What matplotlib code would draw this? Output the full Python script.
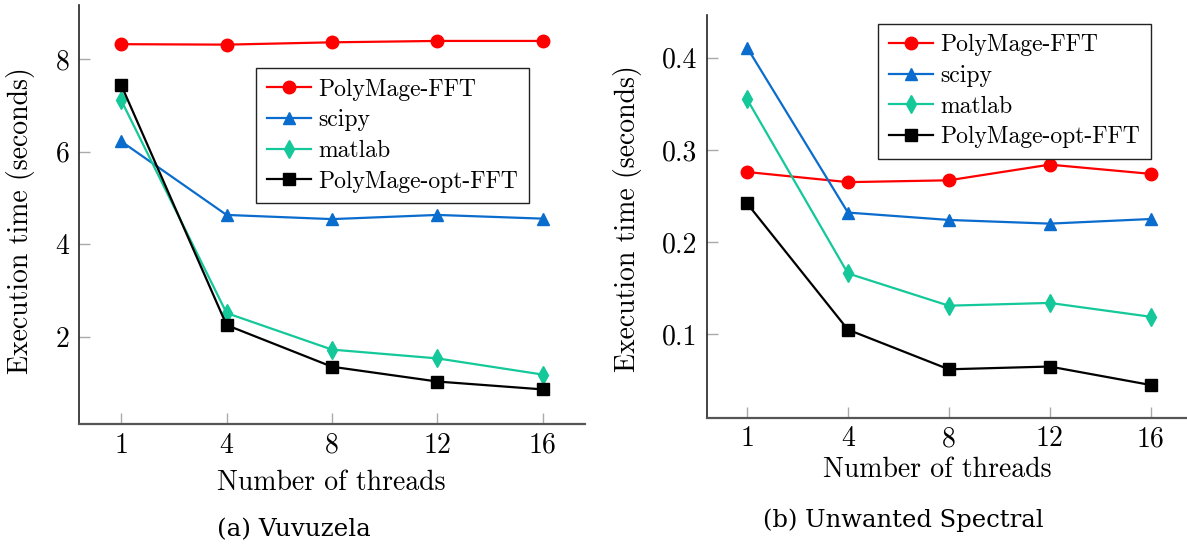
import numpy as np
import matplotlib
matplotlib.use("Agg")
import matplotlib.pyplot as plt

# thread counts, plotted as evenly spaced symbolic coords
threads = ["1", "4", "8", "12", "16"]

# (a) Vuvuzela, seconds
vuv_polymage = [8.32, 8.31, 8.36, 8.39, 8.39]
vuv_scipy = [6.22, 4.63, 4.54, 4.63, 4.55]
vuv_matlab = [7.11, 2.51, 1.72, 1.53, 1.18]
vuv_opt = [7.44, 2.25, 1.35, 1.03, 0.86]

# (b) Unwanted Spectral, seconds
spec_polymage = [0.276, 0.265, 0.267, 0.284, 0.274]
spec_scipy = [0.411, 0.232, 0.224, 0.220, 0.225]
spec_matlab = [0.355, 0.166, 0.131, 0.134, 0.119]
spec_opt = [0.242, 0.105, 0.062, 0.065, 0.045]

series_names = ["PolyMage-FFT", "scipy", "matlab", "PolyMage-opt-FFT"]

plt.rcParams["font.family"] = "cmr10"
plt.rcParams["mathtext.fontset"] = "cm"
plt.rcParams["axes.formatter.use_mathtext"] = True

W, H = 1187, 550
fig = plt.figure(figsize=(W / 100, H / 100), dpi=100)

# series styles: color, marker, marker size
styles = [
    ("#ff0000", "o", 9),
    ("#0a6ccc", "^", 9),
    ("#14c89a", "d", 9),
    ("#000000", "s", 9),
]


def px_axes(x0, y0, x1, y1):
    """Axes from pixel box (top-left origin)."""
    return fig.add_axes([x0 / W, 1 - y1 / H, (x1 - x0) / W, (y1 - y0) / H])


def draw_panel(ax, data, ylim, yticks, yticklabels, legend_xy):
    xs = np.arange(len(threads))
    for (color, marker, ms), vals, name in zip(styles, data, series_names):
        ax.plot(xs, vals, color=color, marker=marker, markersize=ms,
                linewidth=1.6, label=name, clip_on=False)
    ax.set_xlim(-0.4, len(threads) - 1 + 0.4)
    ax.set_ylim(*ylim)
    ax.set_xticks(xs)
    ax.set_xticklabels(threads)
    ax.set_yticks(yticks)
    ax.set_yticklabels(yticklabels)
    for s in ["top", "right"]:
        ax.spines[s].set_visible(False)
    ax.spines["left"].set_color("#222222")
    ax.spines["bottom"].set_color("#555555")
    ax.spines["left"].set_linewidth(1.2)
    ax.spines["bottom"].set_linewidth(1.6)
    ax.tick_params(axis="both", direction="in", length=8, width=1,
                   color="#aaaaaa", labelsize=20)
    ax.tick_params(axis="x", pad=6)
    ax.tick_params(axis="y", pad=7)
    leg = ax.legend(loc="upper left",
                    bbox_to_anchor=(legend_xy[0] / W, 1 - legend_xy[1] / H),
                    bbox_transform=fig.transFigure,
                    fontsize=17, frameon=True, fancybox=False,
                    edgecolor="#222222", framealpha=1,
                    handlelength=1.9, labelspacing=0.36,
                    borderpad=0.45, handletextpad=0.3, borderaxespad=0)
    leg.get_frame().set_linewidth(1.0)


ax1 = px_axes(79, 5.3, 585, 424.3)
draw_panel(ax1, [vuv_polymage, vuv_scipy, vuv_matlab, vuv_opt],
           (0.106, 9.16), [2, 4, 6, 8], ["2", "4", "6", "8"], (256, 68))

ax2 = px_axes(706.7, 15, 1190.9, 417.7)
draw_panel(ax2, [spec_polymage, spec_scipy, spec_matlab, spec_opt],
           (0.0095, 0.4463), [0.1, 0.2, 0.3, 0.4],
           ["0.1", "0.2", "0.3", "0.4"], (878, 23.7))

# axis labels and captions
fig.text(21 / W, 1 - 221 / H, "Execution time (seconds)", rotation=90,
         ha="center", va="center", fontsize=20)
fig.text(628 / W, 1 - 219 / H, "Execution time (seconds)", rotation=90,
         ha="center", va="center", fontsize=20)
fig.text(331 / W, 1 - 483 / H, "Number of threads", ha="center",
         va="center", fontsize=20)
fig.text(937 / W, 1 - 470 / H, "Number of threads", ha="center",
         va="center", fontsize=20)
fig.text(294 / W, 1 - 530 / H, "(a) Vuvuzela", ha="center", va="center",
         fontsize=17.7, family="DejaVu Serif")
fig.text(903 / W, 1 - 520 / H, "(b) Unwanted Spectral", ha="center",
         va="center", fontsize=17.5, family="DejaVu Serif")

fig.savefig("out.png", dpi=100)
